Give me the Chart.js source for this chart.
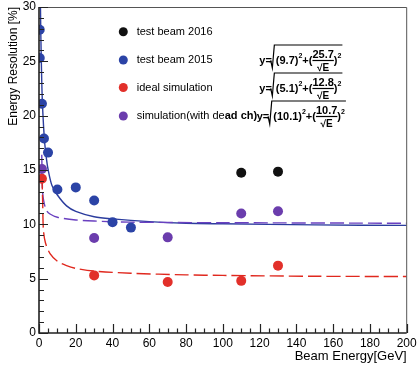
<!DOCTYPE html>
<html>
<head>
<meta charset="utf-8">
<script src="https://cdn.jsdelivr.net/npm/chart.js@4.4.1/dist/chart.umd.min.js"></script>
<style>
  html, body { margin: 0; padding: 0; background: #fff; }
  #wrap { width: 418px; height: 368px; }
</style>
</head>
<body>
<div id="wrap"><canvas id="myChart" width="418" height="368"></canvas></div>
<script>
const FAM = '"Liberation Sans", Arial, Helvetica, sans-serif';

// measured points
const tb2016E = [110, 130];
const tb2016R = [14.75, 14.85];

const tb2015E = [0.4, 0.4, 1.6, 2.7, 4.9, 10, 20, 30, 40, 50];
const tb2015R = [27.9, 25.3, 21.1, 17.9, 16.6, 13.2, 13.4, 12.2, 10.2, 9.7];

const idealE = [1.6, 30, 70, 110, 130];
const idealR = [14.2, 5.3, 4.7, 4.8, 6.2];

const deadE = [1.6, 30, 70, 110, 130];
const deadR = [15.1, 8.75, 8.8, 11.0, 11.2];

// fit curves
const fitBlueE = [0.8, 1, 1.5, 2, 3, 4, 5, 7, 10, 15, 20, 30, 40, 60, 80, 100, 150, 200];
const fitBlueR = [30, 27.4, 23.1, 20.6, 17.7, 16.1, 15.0, 13.6, 12.7, 11.7, 11.2, 10.7, 10.5, 10.25, 10.1, 10.05, 9.95, 9.9];

const fitPurpleE = [1.5, 1.9, 2.5, 4, 6, 10, 20, 30, 50, 100, 200];
const fitPurpleR = [16.4, 13.2, 12.2, 11.3, 10.95, 10.65, 10.4, 10.3, 10.2, 10.15, 10.1];

const fitRedE = [1.6, 2, 2.4, 3.5, 6, 10, 15, 20, 30, 50, 80, 100, 150, 200];
const fitRedR = [14.5, 12, 9.5, 8.3, 7.3, 6.6, 6.2, 5.95, 5.7, 5.5, 5.35, 5.3, 5.22, 5.2];

const legendLabels = ['test beam 2016', 'test beam 2015', 'ideal simulation', 'simulation(with de'];
const formulaConst = ['9.7', '5.1', '10.1'];
const formulaStoch = ['25.7', '12.8', '10.7'];

const cBlack = '#111111';
const cBlue = '#2b43a6';
const cRed = '#e2302a';
const cPurple = '#6b3dad';

function pts(xs, ys) {
    return xs.map(function (x, i) { return {x: x, y: ys[i]}; });
}

function drawFormula(ctx, x, yc, a, b) {
    ctx.save();
    ctx.fillStyle = '#000';
    ctx.strokeStyle = '#000';
    ctx.textAlign = 'left';
    ctx.textBaseline = 'alphabetic';
    const big = 'bold 11px ' + FAM;
    const small = 'bold 7px ' + FAM;
    ctx.font = big;
    ctx.fillText('y=', x, yc + 4);
    let px = x + ctx.measureText('y=').width;
    const rx = px;
    px += 4;
    let s = '(' + a + ')';
    ctx.fillText(s, px, yc + 4);
    px += ctx.measureText(s).width;
    ctx.font = small;
    ctx.fillText('2', px, yc - 2);
    px += ctx.measureText('2').width;
    ctx.font = big;
    ctx.fillText('+(', px, yc + 4);
    px += ctx.measureText('+(').width;
    const nw = ctx.measureText(b).width;
    ctx.fillText(b, px, yc - 2);
    ctx.lineWidth = 1.2;
    ctx.beginPath();
    ctx.moveTo(px, yc + 0.5);
    ctx.lineTo(px + nw, yc + 0.5);
    ctx.stroke();
    ctx.font = 'bold 10px ' + FAM;
    ctx.textAlign = 'center';
    ctx.fillText('\u221AE', px + nw / 2, yc + 11);
    ctx.textAlign = 'left';
    px += nw;
    ctx.font = big;
    ctx.fillText(')', px, yc + 4);
    px += ctx.measureText(')').width;
    ctx.font = small;
    ctx.fillText('2', px, yc - 2);
    px += ctx.measureText('2').width;
    // radical sign
    ctx.lineWidth = 1.2;
    ctx.beginPath();
    ctx.moveTo(rx - 2.5, yc + 2);
    ctx.lineTo(rx - 1, yc + 1);
    ctx.lineTo(rx + 0.5, yc + 8);
    ctx.lineTo(rx + 2.5, yc - 15);
    ctx.lineTo(px + 1, yc - 15);
    ctx.stroke();
    ctx.restore();
}

const rootFrame = {
    id: 'rootFrame',
    afterDraw: function (chart) {
        const ctx = chart.ctx;
        const a = chart.chartArea;
        const xs = chart.scales.x;
        const ys = chart.scales.y;
        ctx.save();
        // frame
        ctx.strokeStyle = '#555';
        ctx.lineWidth = 1;
        ctx.beginPath();
        ctx.moveTo(a.left, a.top + 0.5);
        ctx.lineTo(a.right, a.top + 0.5);
        ctx.lineTo(a.right, a.bottom);
        ctx.stroke();
        ctx.strokeStyle = '#222';
        ctx.lineWidth = 1.6;
        ctx.beginPath();
        ctx.moveTo(a.left, a.top);
        ctx.lineTo(a.left, a.bottom);
        ctx.lineTo(a.right, a.bottom);
        ctx.stroke();
        // ticks inside
        ctx.lineWidth = 1.2;
        ctx.beginPath();
        for (let v = 0; v <= 30; v++) {
            const y = Math.round(ys.getPixelForValue(v)) + 0.5;
            const len = v % 5 === 0 ? 9 : 5;
            ctx.moveTo(a.left, y);
            ctx.lineTo(a.left + len, y);
        }
        for (let v = 0; v <= 200; v += 5) {
            const x = Math.round(xs.getPixelForValue(v)) + 0.5;
            const len = v % 20 === 0 ? 9 : 4.5;
            ctx.moveTo(x, a.bottom);
            ctx.lineTo(x, a.bottom - len);
        }
        ctx.stroke();

        // legend
        const rows = [31.7, 60, 87.5, 116];
        const cols = [cBlack, cBlue, cRed, cPurple];
        ctx.textAlign = 'left';
        ctx.textBaseline = 'middle';
        for (let i = 0; i < rows.length; i++) {
            ctx.fillStyle = cols[i];
            ctx.beginPath();
            ctx.arc(123.3, rows[i], 4.5, 0, Math.PI * 2);
            ctx.fill();
            ctx.fillStyle = '#000';
            ctx.font = '11px ' + FAM;
            ctx.fillText(legendLabels[i], 136.7, rows[i]);
        }
        const w = ctx.measureText(legendLabels[3]).width;
        ctx.font = 'bold 11px ' + FAM;
        ctx.fillText('ad ch)', 136.7 + w, rows[3]);

        drawFormula(ctx, 259.3, 60, formulaConst[0], formulaStoch[0]);
        drawFormula(ctx, 259.3, 88, formulaConst[1], formulaStoch[1]);
        drawFormula(ctx, 256.7, 116, formulaConst[2], formulaStoch[2]);
        ctx.restore();
    }
};

const ctx = document.getElementById('myChart');
const myChart = new Chart(ctx, {
    type: 'scatter',
    data: {
        datasets: [
            {
                label: 'fit 2015',
                data: pts(fitBlueE, fitBlueR),
                showLine: true,
                borderColor: '#2c3d9e',
                borderWidth: 1.4,
                pointRadius: 0,
                tension: 0.3,
                order: 10
            },
            {
                label: 'fit dead ch',
                data: pts(fitPurpleE, fitPurpleR),
                showLine: true,
                borderColor: '#6a40c0',
                borderWidth: 1.4,
                borderDash: [14, 5],
                pointRadius: 0,
                tension: 0.3,
                order: 9
            },
            {
                label: 'fit ideal',
                data: pts(fitRedE, fitRedR),
                showLine: true,
                borderColor: '#e0281e',
                borderWidth: 1.4,
                borderDash: [14, 5],
                pointRadius: 0,
                tension: 0.3,
                order: 8
            },
            {
                label: 'test beam 2016',
                data: pts(tb2016E, tb2016R),
                backgroundColor: cBlack,
                borderWidth: 0,
                pointRadius: 5,
                order: 4
            },
            {
                label: 'test beam 2015',
                data: pts(tb2015E, tb2015R),
                backgroundColor: cBlue,
                borderWidth: 0,
                pointRadius: 5,
                order: 3
            },
            {
                label: 'simulation(with dead ch)',
                data: pts(deadE, deadR),
                backgroundColor: cPurple,
                borderWidth: 0,
                pointRadius: 5,
                order: 2
            },
            {
                label: 'ideal simulation',
                data: pts(idealE, idealR),
                backgroundColor: cRed,
                borderWidth: 0,
                pointRadius: 5,
                order: 1
            }
        ]
    },
    options: {
        responsive: false,
        animation: false,
        events: [],
        layout: { padding: { top: 7, right: 11.3, left: 0, bottom: 0 } },
        plugins: {
            legend: { display: false },
            tooltip: { enabled: false }
        },
        scales: {
            x: {
                type: 'linear',
                min: 0,
                max: 200,
                grid: { display: false, drawTicks: false },
                border: { display: false },
                ticks: {
                    stepSize: 20,
                    padding: 3,
                    maxRotation: 0,
                    color: '#000',
                    font: { family: FAM, size: 12 }
                },
                title: {
                    display: true,
                    text: 'Beam Energy[GeV]',
                    align: 'end',
                    color: '#000',
                    font: { family: FAM, size: 13 },
                    padding: { top: 0, bottom: 4 }
                },
                afterFit: function (scale) {
                    scale.height = 35;
                    scale.paddingLeft = 0;
                    scale.paddingRight = 0;
                }
            },
            y: {
                type: 'linear',
                min: 0,
                max: 30,
                grid: { display: false, drawTicks: false },
                border: { display: false },
                ticks: {
                    stepSize: 5,
                    padding: 3,
                    color: '#000',
                    font: { family: FAM, size: 12 }
                },
                title: {
                    display: true,
                    text: 'Energy Resolution [%]',
                    align: 'end',
                    color: '#000',
                    font: { family: FAM, size: 12 },
                    padding: { top: 6, bottom: 0 }
                },
                afterFit: function (scale) {
                    scale.width = 39;
                    scale.paddingTop = 0;
                    scale.paddingBottom = 0;
                }
            }
        }
    },
    plugins: [rootFrame]
});
</script>
</body>
</html>
